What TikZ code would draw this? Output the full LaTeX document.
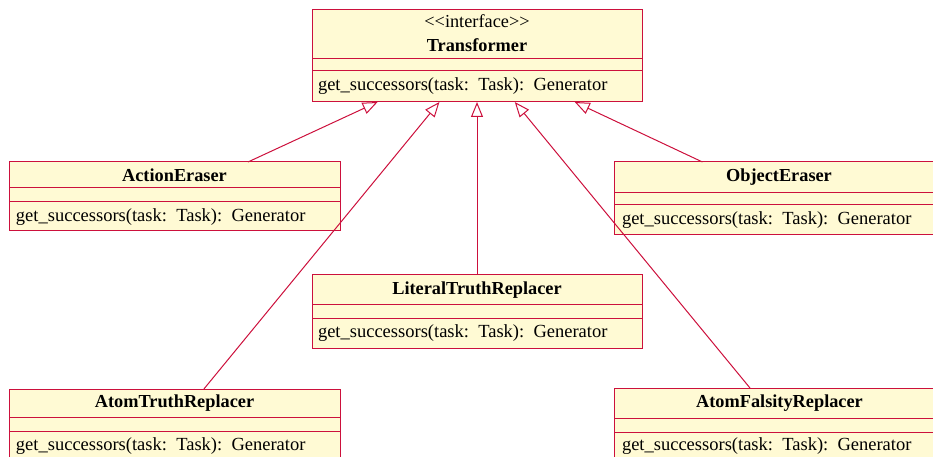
\documentclass[tikz,border=0pt]{standalone}
\usepackage{fontspec}
\setmainfont{Liberation Serif}
\usetikzlibrary{arrows.meta}
\definecolor{umldraw}{RGB}{204,16,60}
\definecolor{umlfill}{RGB}{255,250,212}
\newcommand{\mthtext}{get\_successors(task:\hspace{0.5em}Task):\hspace{0.5em}Generator}
\begin{document}
\begin{tikzpicture}[x=1pt,y=-1pt,
  cls/.style={draw=umldraw,fill=umlfill,line width=1pt,inner sep=0pt,outer sep=0pt,rectangle},
  sep/.style={draw=umldraw,line width=1pt},
  txt/.style={inner sep=0pt,outer sep=0pt,font=\fontsize{18.3}{22}\selectfont},
  ttl/.style={txt,anchor=base,font=\fontsize{18.3}{22}\selectfont\bfseries},
  mth/.style={txt,anchor=base west,font=\fontsize{18.5}{22}\selectfont},
  inherit/.style={draw=umldraw,line width=1pt,-{Triangle[open,length=15pt,width=12pt]}}]
\useasboundingbox (0,0) rectangle (933,457);
% Transformer
\node[cls,minimum width=330pt,minimum height=92pt] (tr) at (477,56) {};
\draw[sep] (tr.west |- 0,59) -- (tr.east |- 0,59);
\draw[sep] (tr.west |- 0,71) -- (tr.east |- 0,71);
\node[txt,anchor=base] (trs) at (477,28) {{<}{<}interface{>}{>}};
\node[ttl] (trt) at (477,52) {Transformer};
\node[mth] (trm) at (318,91) {\mthtext};
% ActionEraser
\node[cls,minimum width=331pt,minimum height=68pt] (ae) at (174.5,196) {};
\draw[sep] (ae.west |- 0,187) -- (ae.east |- 0,187);
\draw[sep] (ae.west |- 0,201) -- (ae.east |- 0,201);
\node[ttl] (aet) at (174.5,181) {ActionEraser};
\node[mth] (aem) at (16,221) {\mthtext};
% ObjectEraser
\node[cls,minimum width=330pt,minimum height=72pt] (oe) at (779,198) {};
\draw[sep] (oe.west |- 0,192) -- (oe.east |- 0,192);
\draw[sep] (oe.west |- 0,204) -- (oe.east |- 0,204);
\node[ttl] (oet) at (779,181) {ObjectEraser};
\node[mth] (oem) at (622,224) {\mthtext};
% LiteralTruthReplacer
\node[cls,minimum width=330pt,minimum height=74pt] (lt) at (477,311) {};
\draw[sep] (lt.west |- 0,304) -- (lt.east |- 0,304);
\draw[sep] (lt.west |- 0,318) -- (lt.east |- 0,318);
\node[ttl] (ltt) at (477,294) {LiteralTruthReplacer};
\node[mth] (ltm) at (318,337) {\mthtext};
% AtomTruthReplacer
\node[cls,minimum width=331pt,minimum height=72pt] (at) at (174.5,425) {};
\draw[sep] (at.west |- 0,417) -- (at.east |- 0,417);
\draw[sep] (at.west |- 0,431) -- (at.east |- 0,431);
\node[ttl] (att) at (174.5,407) {AtomTruthReplacer};
\node[mth] (atm) at (16,450) {\mthtext};
% AtomFalsityReplacer
\node[cls,minimum width=331pt,minimum height=72pt] (af) at (779.5,424) {};
\draw[sep] (af.west |- 0,418) -- (af.east |- 0,418);
\draw[sep] (af.west |- 0,432) -- (af.east |- 0,432);
\node[ttl] (aft) at (779.5,407) {AtomFalsityReplacer};
\node[mth] (afm) at (622,450) {\mthtext};
% inheritance
\draw[inherit] (ae) -- (tr);
\draw[inherit] (oe) -- (tr);
\draw[inherit] (lt) -- (tr);
\draw[inherit] (at) -- (tr);
\draw[inherit] (af) -- (tr);
\end{tikzpicture}
\end{document}
